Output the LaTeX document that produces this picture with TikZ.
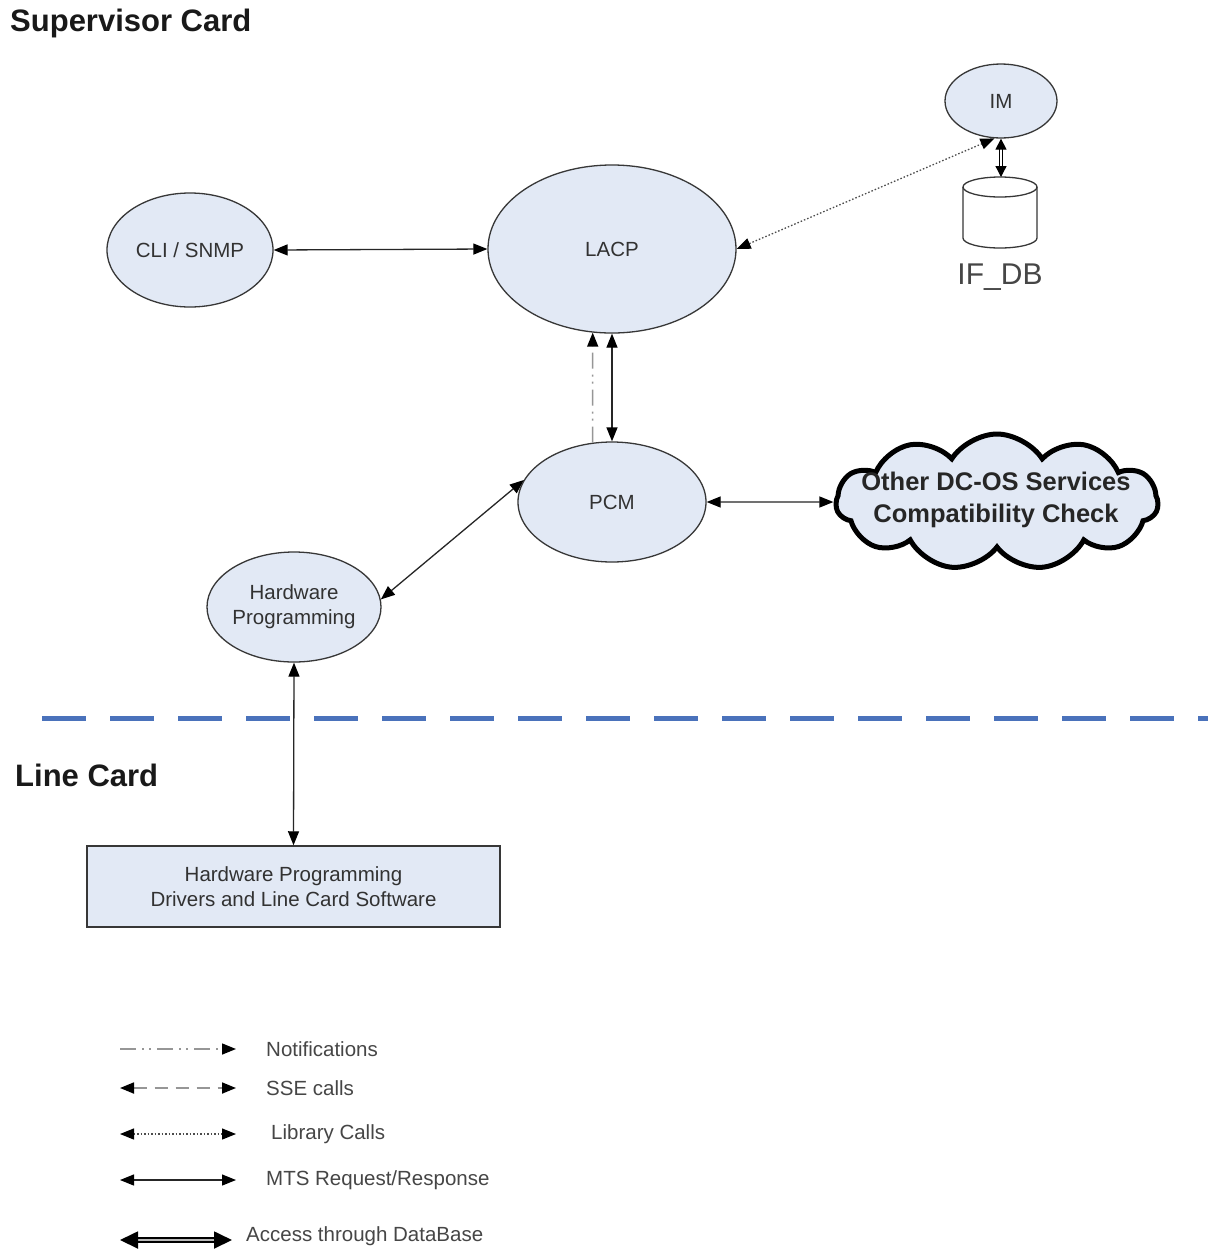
\documentclass[tikz,border=0pt]{standalone}
\usepackage{fontspec}
\setmainfont{Liberation Sans}
\usetikzlibrary{arrows.meta,shapes.geometric,shapes.symbols}
\definecolor{nodefill}{RGB}{226,233,245}
\definecolor{nodeborder}{RGB}{55,55,55}
\definecolor{txtgray}{RGB}{50,50,50}
\definecolor{leggray}{RGB}{70,70,70}
\definecolor{sepblue}{RGB}{74,114,187}
\definecolor{notifgray}{RGB}{150,150,150}
\tikzset{
  ell/.style={ellipse, draw=nodeborder, line width=1.3pt, fill=nodefill, inner sep=0pt,
    text=txtgray, font=\fontsize{20.5}{25}\selectfont, align=center},
  boxnode/.style={rectangle, draw=nodeborder, line width=1.5pt, fill=nodefill, inner sep=0pt,
    text=txtgray, font=\fontsize{20.5}{25}\selectfont, align=center},
  heading/.style={anchor=west, inner sep=0pt, font=\bfseries\fontsize{31}{36}\selectfont, text=black!90},
  legtext/.style={anchor=west, inner sep=0pt, text=leggray, font=\fontsize{20.5}{24}\selectfont},
  tipA/.tip={Triangle[length=14pt,width=11pt,color=black]},
  mts/.style={draw=black!85, line width=1.3pt, tipA-tipA},
  notif/.style={draw=notifgray, line width=1.5pt, dash pattern=on 16pt off 6pt on 2pt off 5pt on 2pt off 6pt, -tipA},
  sse/.style={draw=notifgray, line width=1.8pt, dash pattern=on 13pt off 8pt, tipA-tipA},
  lib/.style={draw=black!70, line width=1.3pt, dash pattern=on 1.5pt off 2pt, tipA-tipA},
  dbarrow/.style={draw=black, line width=1.3pt, double=white, double distance=2.2pt,
    {Triangle[length=11pt,width=11pt]}-{Triangle[length=11pt,width=11pt]}},
  dblegend/.style={draw=black, line width=1.8pt, double=gray!55, double distance=2.5pt,
    {Triangle[length=18pt,width=17pt]}-{Triangle[length=18pt,width=17pt]}},
}
\begin{document}
\begin{tikzpicture}[x=1pt,y=-1pt]
\useasboundingbox[fill=white] (0,0) rectangle (1208,1254);

% headings
\node[heading] (sup) at (10,23) {Supervisor Card};
\node[heading] (lc) at (15,775) {Line Card};

% separator
\coordinate (sepL) at (42,718);
\coordinate (sepR) at (1208,718);
\draw[sepblue, line width=5pt, dash pattern=on 44pt off 24pt] (sepL) -- (sepR);

% nodes
\node[ell, minimum width=166pt, minimum height=114pt] (cli) at (190,250) {CLI / SNMP};
\node[ell, minimum width=248pt, minimum height=168pt] (lacp) at (612,249) {LACP};
\node[ell, minimum width=112pt, minimum height=74pt] (im) at (1001,101) {IM};
\node[ell, minimum width=188pt, minimum height=120pt] (pcm) at (612,502) {PCM};
\node[ell, minimum width=172pt, minimum height=110pt] (hw) at (294,607) {Hardware\\Programming};
\node[boxnode, minimum width=413pt, minimum height=81pt] (box) at (293.5,886.5)
  {Hardware Programming\\Drivers and Line Card Software};

% cloud
\node[cloud, draw=black, line width=5pt, fill=nodefill, cloud puffs=11, cloud puff arc=115,
  aspect=2.3, minimum width=322pt, minimum height=136pt, inner sep=0pt] (cloud) at (997,502) {};
\node[font=\bfseries\fontsize{25.5}{32}\selectfont, text=black!85, align=center, inner sep=0pt]
  (cloudtxt) at (996,500) {Other DC-OS Services\\Compatibility Check};

% database cylinder
\draw[draw=nodeborder, line width=1.3pt, fill=white]
  (963,187) -- (963,238) arc[start angle=180, end angle=0, x radius=37, y radius=10] -- (1037,187);
\draw[draw=nodeborder, line width=1.3pt, fill=white] (1000,187) ellipse[x radius=37, y radius=10];
\coordinate (dbtop) at (1001,177);
\node[inner sep=0pt, text=leggray, font=\fontsize{30}{34}\selectfont] (dblabel) at (1000,277) {IF\_DB};

% connectors
\draw[mts] (cli.east) -- (lacp.west);
\draw[mts] (lacp.south) -- (pcm.north);
\draw[notif] (pcm.108) -- (lacp.257);
\draw[lib] (lacp.east) -- (im.260);
\draw[dbarrow] (im.south) -- (dbtop);
\draw[mts] (pcm.east) -- (cloud.west);
\draw[mts] (pcm.166) -- (hw.5);
\draw[mts] (hw.south) -- (box.north);

% legend
\coordinate (n1) at (120,1049); \coordinate (n2) at (236,1049);
\coordinate (s1) at (120,1088); \coordinate (s2) at (236,1088);
\coordinate (l1) at (120,1134); \coordinate (l2) at (236,1134);
\coordinate (m1) at (120,1180); \coordinate (m2) at (236,1180);
\coordinate (d1) at (120,1240); \coordinate (d2) at (232,1240);
\draw[notif] (n1) -- (n2);
\draw[sse] (s1) -- (s2);
\draw[lib] (l1) -- (l2);
\draw[mts] (m1) -- (m2);
\draw[dblegend] (d1) -- (d2);
\node[legtext] (tn) at (266,1049) {Notifications};
\node[legtext] (ts) at (266,1088) {SSE calls};
\node[legtext] (tl) at (271,1134) {Library Calls};
\node[legtext] (tm) at (266,1180) {MTS Request/Response};
\node[legtext] (td) at (246,1236) {Access through DataBase};
\end{tikzpicture}
\end{document}
